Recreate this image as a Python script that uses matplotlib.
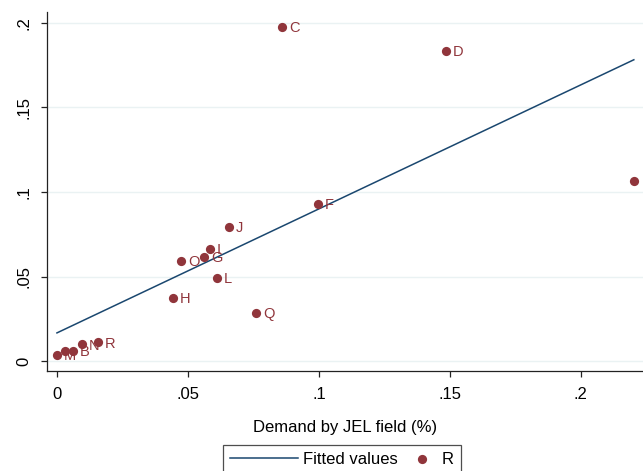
import numpy as np
from matplotlib import pyplot as plt
from matplotlib.legend_handler import HandlerPathCollection

plt.rcParams['font.family'] = ['Liberation Sans', 'DejaVu Sans']

# demand share by JEL field vs R share
labels = ['M', '', 'B', 'N', 'R', 'H', 'O', 'G', 'I', 'L', 'J', 'Q', 'F', 'C', 'D', '']
demand = [0.0, 0.003, 0.006, 0.0095, 0.0157, 0.0443, 0.0473, 0.0561, 0.0584,
          0.0611, 0.0656, 0.0760, 0.0996, 0.0859, 0.1485, 0.2202]
r_share = [0.0036, 0.006, 0.006, 0.010, 0.011, 0.0373, 0.0592, 0.0615, 0.0663,
           0.0491, 0.0793, 0.0284, 0.0929, 0.1976, 0.1834, 0.1065]

x_ticks = [0, 0.05, 0.1, 0.15, 0.2]
x_tick_labels = ['0', '.05', '.1', '.15', '.2']
y_ticks = [0, 0.05, 0.1, 0.15, 0.2]
y_tick_labels = ['0', '.05', '.1', '.15', '.2']

marker_col = '#90353b'
line_col = '#1a476f'


# put the legend marker near the right end of its handle box
class RightMarker(HandlerPathCollection):
    def get_xdata(self, legend, xdescent, ydescent, width, height, fontsize):
        xd = [-xdescent + 0.78 * width]
        return xd, xd


x = np.array(demand)
y = np.array(r_share)
slope, intercept = np.polyfit(x, y, 1)

fig = plt.figure(figsize=(6.43, 4.71), dpi=100)
ax = fig.add_axes([47 / 643, 1 - 371 / 471, 1 - 47 / 643, (371 - 12) / 471])

xs = np.array([x.min(), x.max()])
ax.plot(xs, intercept + slope * xs, color=line_col, lw=1.1, label='Fitted values', zorder=2)
sc = ax.scatter(x, y, s=44, color=marker_col, label='R', zorder=3, linewidths=0)
for lab, xi, yi in zip(labels, x, y):
    if lab:
        ax.annotate(lab, (xi, yi), xytext=(5, -1), textcoords='offset points',
                    color=marker_col, fontsize=10.5, va='center', ha='left')

ax.set_xlim(-0.0038, 0.2237)
ax.set_ylim(-0.0059, 0.2065)
ax.set_xticks(x_ticks)
ax.set_xticklabels(x_tick_labels, fontsize=12)
ax.set_yticks(y_ticks)
ax.set_yticklabels(y_tick_labels, fontsize=12, rotation=90, va='center')
ax.tick_params(direction='out', length=4.3, width=0.9, pad=7, color='#222222')
ax.yaxis.grid(True, color='#eaf2f3', lw=1)
ax.set_axisbelow(True)
for side in ['top', 'right']:
    ax.spines[side].set_visible(False)
for side in ['left', 'bottom']:
    ax.spines[side].set_color('#222222')
    ax.spines[side].set_linewidth(0.9)

ax.set_xlabel('Demand by JEL field (%)', fontsize=12, labelpad=13)

leg = fig.legend(loc='upper left', bbox_to_anchor=(223 / 643, 1 - 445 / 471), ncol=2,
                 fontsize=12, frameon=True, fancybox=False, edgecolor='#222222',
                 handlelength=4.1, handletextpad=0.3, columnspacing=-1.75,
                 borderpad=0.4, borderaxespad=0,
                 handler_map={sc: RightMarker(numpoints=1)})
leg.get_frame().set_linewidth(0.9)

fig.savefig('out.png', dpi=100)
